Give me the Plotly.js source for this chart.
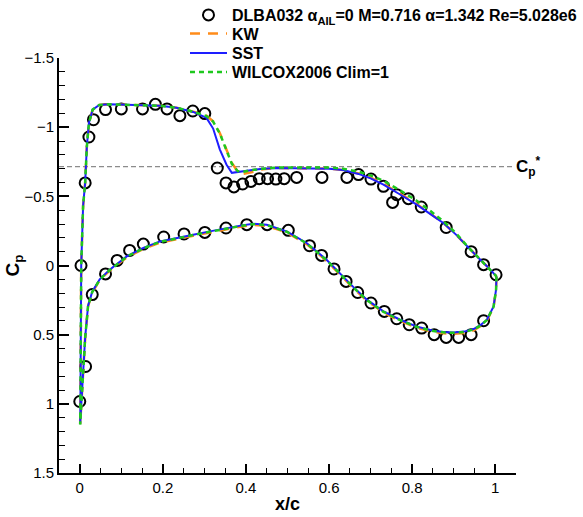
<!DOCTYPE html>
<html>
<head>
<meta charset="utf-8">
<script src="https://cdn.plot.ly/plotly-3.0.1.min.js"></script>
<style>html,body{margin:0;padding:0;background:#fff;}#chart{width:583px;height:517px;}</style>
</head>
<body>
<div id="chart"></div>
<script>
// Experimental data (DLBA032)
const expUpperX = [0.003, 0.013, 0.022, 0.033, 0.062, 0.100, 0.151, 0.182, 0.210, 0.241, 0.272, 0.301, 0.331, 0.352, 0.371, 0.392, 0.412, 0.432, 0.452, 0.472, 0.492, 0.522, 0.583, 0.643, 0.671, 0.701, 0.731, 0.753, 0.763, 0.791, 0.822, 0.882, 0.942, 0.972, 1.002];
const expUpperCp = [0.0, -0.597, -0.929, -1.054, -1.127, -1.132, -1.132, -1.165, -1.132, -1.083, -1.117, -1.098, -0.705, -0.597, -0.568, -0.589, -0.608, -0.628, -0.628, -0.625, -0.628, -0.637, -0.637, -0.637, -0.657, -0.625, -0.572, -0.456, -0.512, -0.483, -0.423, -0.275, -0.100, -0.006, 0.067];
const expLowerX = [0.000, 0.014, 0.030, 0.062, 0.090, 0.120, 0.153, 0.202, 0.251, 0.301, 0.352, 0.402, 0.451, 0.502, 0.553, 0.582, 0.612, 0.641, 0.669, 0.701, 0.733, 0.763, 0.793, 0.823, 0.853, 0.882, 0.912, 0.942, 0.972];
const expLowerCp = [0.983, 0.730, 0.210, 0.061, -0.037, -0.109, -0.155, -0.206, -0.228, -0.239, -0.271, -0.295, -0.295, -0.254, -0.143, -0.073, 0.025, 0.115, 0.195, 0.271, 0.332, 0.385, 0.428, 0.452, 0.500, 0.520, 0.520, 0.500, 0.399];

// CFD curves (path: lower TE -> LE -> upper TE), shared x/c stations
const curveX = [1.003, 1.002, 0.996, 0.980, 0.965, 0.948, 0.925, 0.900, 0.875, 0.851,
  0.810, 0.771, 0.730, 0.691, 0.660, 0.634, 0.594, 0.546, 0.498, 0.450,
  0.418, 0.390, 0.353, 0.310, 0.273, 0.230, 0.193, 0.153, 0.113, 0.072,
  0.048, 0.030, 0.020, 0.013, 0.008, 0.003, 0.001,
  0.0015, 0.003, 0.0035, 0.008, 0.013, 0.017, 0.022, 0.031, 0.047, 0.071,
  0.100, 0.150, 0.193, 0.233, 0.273, 0.305, 0.321, 0.337, 0.353, 0.366,
  0.380, 0.393, 0.410, 0.440, 0.474, 0.554, 0.600, 0.634, 0.671, 0.700, 0.731,
  0.770, 0.811, 0.845, 0.875, 0.905, 0.932, 0.958, 0.980, 0.993, 1.003];
const kwCp = [0.079, 0.178, 0.300, 0.398, 0.438, 0.468, 0.488, 0.494, 0.490, 0.480,
  0.448, 0.400, 0.338, 0.255, 0.168, 0.087, -0.034, -0.155, -0.239, -0.287,
  -0.294, -0.282, -0.263, -0.237, -0.215, -0.190, -0.166, -0.119, -0.058, 0.036,
  0.105, 0.195, 0.295, 0.525, 0.805, 1.055, 1.145,
  1.000, 0.420, 0.000, -0.430, -0.600, -0.860, -1.030, -1.127, -1.160, -1.165,
  -1.163, -1.160, -1.155, -1.140, -1.112, -1.083, -1.042, -0.958, -0.840, -0.741,
  -0.680, -0.662, -0.672, -0.695, -0.705, -0.705, -0.700, -0.690, -0.665, -0.635, -0.590,
  -0.520, -0.445, -0.372, -0.308, -0.225, -0.138, -0.060, 0.005, 0.045, 0.079];
const sstCp = [0.079, 0.175, 0.296, 0.392, 0.430, 0.459, 0.478, 0.484, 0.480, 0.471,
  0.440, 0.392, 0.330, 0.247, 0.160, 0.079, -0.042, -0.163, -0.247, -0.295,
  -0.302, -0.290, -0.271, -0.245, -0.223, -0.198, -0.174, -0.127, -0.066, 0.030,
  0.100, 0.190, 0.290, 0.520, 0.800, 1.050, 1.140,
  1.000, 0.420, 0.000, -0.430, -0.600, -0.860, -1.030, -1.127, -1.160, -1.165,
  -1.163, -1.160, -1.155, -1.140, -1.110, -1.067, -0.990, -0.840, -0.730, -0.670,
  -0.675, -0.684, -0.690, -0.700, -0.705, -0.705, -0.700, -0.690, -0.662, -0.630, -0.584,
  -0.515, -0.440, -0.370, -0.307, -0.225, -0.138, -0.060, 0.005, 0.045, 0.079];
const wilcoxCp = [0.079, 0.176, 0.298, 0.394, 0.433, 0.462, 0.481, 0.487, 0.483, 0.474,
  0.443, 0.395, 0.333, 0.250, 0.163, 0.082, -0.039, -0.160, -0.244, -0.292,
  -0.299, -0.287, -0.268, -0.242, -0.220, -0.195, -0.171, -0.124, -0.063, 0.033,
  0.102, 0.192, 0.292, 0.522, 0.802, 1.052, 1.150,
  1.000, 0.420, 0.000, -0.430, -0.600, -0.860, -1.030, -1.127, -1.160, -1.165,
  -1.163, -1.160, -1.155, -1.140, -1.112, -1.080, -1.040, -0.955, -0.835, -0.735,
  -0.682, -0.678, -0.688, -0.700, -0.708, -0.710, -0.708, -0.700, -0.678, -0.652, -0.612,
  -0.545, -0.468, -0.392, -0.320, -0.235, -0.142, -0.062, 0.004, 0.045, 0.079];

// Critical pressure coefficient line
const cpStarX = [-0.05, 1.042];
const cpStarValue = -0.715;

const legendNames = [
  "DLBA032 α<sub>AIL</sub>=0 M=0.716 α=1.342 Re=5.028e6",
  "KW",
  "SST",
  "WILCOX2006 Clim=1"
];

const FONT = "Liberation Sans, Arial, Helvetica, sans-serif";

const traces = [
  {
    x: cpStarX, y: [cpStarValue, cpStarValue], mode: "lines", showlegend: false,
    line: {color: "#8c8c8c", width: 1.2, dash: "5px,3px"}, hoverinfo: "skip"
  },
  {
    x: expUpperX.concat(expLowerX), y: expUpperCp.concat(expLowerCp),
    mode: "markers", name: "<b>" + legendNames[0] + "</b>", legend: "legend",
    marker: {symbol: "circle-open", size: 11, color: "#000", line: {width: 2, color: "#000"}}
  },
  {
    x: curveX, y: kwCp, mode: "lines", name: "<b>" + legendNames[1] + "</b>", legend: "legend2",
    line: {color: "#ff8c1a", width: 2.5, dash: "10px,8px"}
  },
  {
    x: curveX, y: sstCp, mode: "lines", name: "<b>" + legendNames[2] + "</b>", legend: "legend3",
    line: {color: "#1e1eff", width: 2}
  },
  {
    x: curveX, y: wilcoxCp, mode: "lines", name: "<b>" + legendNames[3] + "</b>", legend: "legend4",
    line: {color: "#1ec81e", width: 2.5, dash: "5px,4px"}
  }
];

function legendAt(yPaper) {
  return {
    x: 0.2757, y: yPaper, xanchor: "left", yanchor: "middle",
    bgcolor: "rgba(0,0,0,0)", borderwidth: 0,
    font: {family: FONT, size: 16, color: "#000"},
    tracegroupgap: 0, itemwidth: 37
  };
}

const layout = {
  width: 583, height: 517,
  margin: {l: 59, r: 67, t: 58, b: 44, autoexpand: false},
  paper_bgcolor: "#fff", plot_bgcolor: "#fff",
  font: {family: FONT, color: "#000", size: 15},
  showlegend: true,
  legend: legendAt(1.1036),
  legend2: legendAt(1.0590),
  legend3: legendAt(1.0120),
  legend4: legendAt(0.9663),
  xaxis: {
    range: [-0.05, 1.05], showgrid: false, zeroline: false,
    showline: true, linecolor: "#000", linewidth: 2,
    ticks: "inside", ticklen: 9, tickwidth: 2, tickcolor: "#000",
    tick0: 0, dtick: 0.2,
    tickfont: {family: FONT, size: 15, color: "#000"},
    minor: {ticks: "inside", dtick: 0.05, tick0: 0, ticklen: 5, tickwidth: 1, tickcolor: "#000", showgrid: false},
    title: {text: "<b>x/c</b>", font: {family: FONT, size: 18, color: "#000"}, standoff: 2}
  },
  yaxis: {
    range: [1.5, -1.5], showgrid: false, zeroline: false,
    showline: true, linecolor: "#000", linewidth: 2,
    ticks: "inside", ticklen: 10, tickwidth: 2, tickcolor: "#000",
    tick0: 0, dtick: 0.5,
    tickfont: {family: FONT, size: 15, color: "#000"},
    minor: {ticks: "inside", dtick: 0.1, tick0: 0, ticklen: 6, tickwidth: 1, tickcolor: "#000", showgrid: false},
    title: {text: "<b>C<sub>p</sub></b>", font: {family: FONT, size: 19, color: "#000"}, standoff: 0}
  },
  annotations: [
    {
      x: 1.045, y: cpStarValue, xref: "x", yref: "y", xanchor: "left", yanchor: "middle",
      text: "<b>C<sub>p</sub><sup>*</sup></b>", showarrow: false,
      font: {family: FONT, size: 17, color: "#000"}
    }
  ]
};

Plotly.newPlot("chart", traces, layout, {displayModeBar: false, staticPlot: true});
</script>
</body>
</html>
